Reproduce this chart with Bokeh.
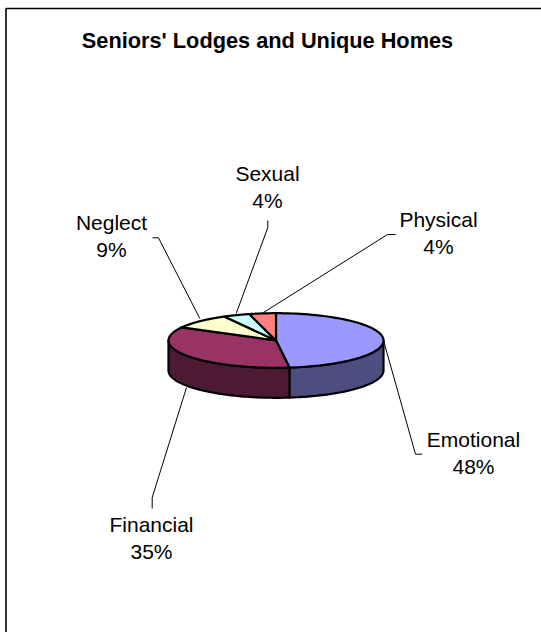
import numpy as np
from bokeh.plotting import figure
from bokeh.core.properties import value
from bokeh.embed import file_html
from bokeh.resources import INLINE

# Data
categories = ["Emotional", "Financial", "Neglect", "Sexual", "Physical"]
percent = [48, 35, 9, 4, 4]
top_colors = ["#9999FF", "#993366", "#FFFFCC", "#CCFFFF", "#FF8080"]
side_colors = ["#4D4D80", "#4D1A33", "#808066", "#668080", "#804040"]
title_text = "Seniors' Lodges and Unique Homes"

# Layout (page pixels)
W, H = 541, 632
CX, CY, RX, RY, DEPTH = 275.5, 340, 107.5, 27.3, 30
OUT = 2.2
label_center_x = [473, 151, 111, 267, 438]
label_base_y = [439, 524, 222, 173, 219]
LINE_GAP = 27
leaders_x = [[421.7, 415, 383], [151.7, 151.7, 186], [152, 158, 199.3], [267.3, 267.3, 235.7], [395, 387, 263]]
leaders_y = [[453.7, 453.7, 340], [508, 497, 387], [237.3, 237.3, 318], [220, 227, 313], [234, 234, 312]]

p = figure(width=W, height=H, x_range=(0, W), y_range=(H, 0), toolbar_location=None,
           output_backend="svg", min_border=0, outline_line_color=None,
           x_axis_type=None, y_axis_type=None)
p.grid.visible = False

# chart-area border (only left and top fall inside the picture)
p.line([5.5, 5.5, W], [H, 8, 8], line_color="black", line_width=1.6)

# leaders
p.multi_line(leaders_x, leaders_y, line_color="black", line_width=1)

def ell(a):
    return CX + RX * np.sin(a), CY - RY * np.cos(a)

edges = np.cumsum([0] + percent) / sum(percent) * 2 * np.pi

# side wall (visible front half only)
for i in range(len(percent)):
    lo, hi = max(edges[i], np.pi / 2), min(edges[i + 1], 3 * np.pi / 2)
    if hi <= lo:
        continue
    t = np.linspace(lo, hi, 60)
    x, y = ell(t)
    p.patch(np.r_[x, x[::-1]], np.r_[y, (y + DEPTH)[::-1]], fill_color=side_colors[i],
            line_color="black", line_width=OUT, line_join="round")

# top face
for i in range(len(percent)):
    t = np.linspace(edges[i], edges[i + 1], 80)
    x, y = ell(t)
    p.patch(np.r_[CX, x], np.r_[CY, y], fill_color=top_colors[i],
            line_color="black", line_width=OUT, line_join="round")

# labels
font = value("Liberation Sans")
p.text([267], [40], text=[title_text], text_font=font, text_font_size="21.75px", text_font_style="bold",
       text_align="center", text_baseline="alphabetic", text_color="black")
for n, v, lx, ly in zip(categories, percent, label_center_x, label_base_y):
    p.text([lx, lx], [ly, ly + LINE_GAP], text=[n, f"{v}%"], text_font=font, text_font_size="21px",
           text_align="center", text_baseline="alphabetic", text_color="black")

open("out.html", "w").write(file_html(p, INLINE))
